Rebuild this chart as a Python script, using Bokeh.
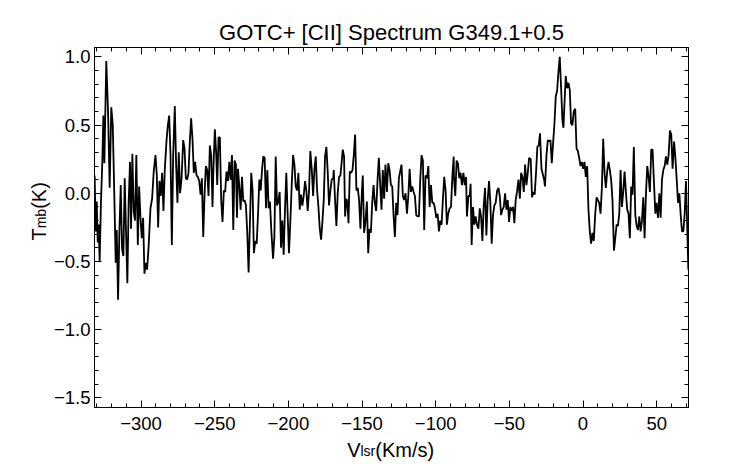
import math
from bokeh.plotting import figure
from bokeh.models import (Range1d, LinearAxis, SingleIntervalTicker, CustomJSTickFormatter, Label)
from bokeh.embed import file_html
from bokeh.resources import INLINE

# ---- data ----
v_seg1 = [-331.5, -330.8, -330.1, -329.4, -328.8, -328.1, -327.2, -326.3, -325.6, -324.9,
          -323.6, -322.4, -321.3, -320.2, -319.2, -318.3, -317.2, -316.5, -315.6, -314.7,
          -313.8, -312.9, -312.0, -311.1, -310.2, -309.3, -308.4, -307.5, -306.8, -305.9,
          -305.0, -304.1, -303.2, -302.2, -301.3, -300.4, -299.5, -298.6, -297.7, -296.8,
          -295.9, -294.8, -293.6, -292.5, -291.4, -290.2, -289.3, -288.4, -287.5, -286.6,
          -285.7, -284.8, -283.9, -282.7, -281.8, -280.9, -280.0, -279.1, -278.2, -277.1,
          -276.2, -275.3, -274.4, -273.5, -272.5, -271.4, -270.5, -269.6, -268.7, -267.8,
          -266.9, -266.0, -265.1, -264.2, -263.3, -262.3, -261.4, -260.5, -259.6, -258.7,
          -257.8, -256.9, -256.0, -255.1, -254.2, -253.3, -252.4, -251.5]
t_seg1 = [0.13, -0.28, -0.06, -0.36, -0.23, -0.50, -0.06, 0.23, 0.57, 0.22,
          0.97, 0.60, 0.04, 0.63, 0.50, 0.06, -0.51, -0.27, -0.78, -0.28,
          0.06, -0.41, -0.46, 0.11, -0.28, -0.66, -0.06, 0.23, -0.26, 0.29,
          -0.13, -0.20, 0.28, -0.38, 0.05, -0.18, -0.33, -0.18, -0.59, -0.51,
          -0.56, -0.38, -0.11, -0.04, 0.16, 0.28, 0.13, -0.25, 0.09, -0.02,
          0.15, -0.13, 0.17, 0.39, 0.50, 0.57, 0.28, -0.38, 0.28, 0.64,
          0.21, -0.07, 0.30, 0.00, 0.11, 0.39, 0.33, 0.11, 0.10, 0.15,
          0.38, 0.55, 0.40, 0.15, 0.23, 0.13, 0.12, 0.09, -0.01, 0.11,
          -0.32, -0.01, 0.20, 0.17, -0.02, 0.35, 0.28, -0.10]

v_seg2 = [-250.8, -249.9, -249.0, -248.3, -247.4, -246.5, -245.6, -244.7, -243.8, -242.9,
          -242.0, -241.0, -240.1, -239.2, -238.3, -237.4, -236.5, -235.6, -234.9, -234.2,
          -233.3, -232.4, -231.5, -230.6, -229.7, -228.8, -227.9, -227.0, -226.1, -225.2,
          -224.3, -223.4, -222.5, -221.5, -220.6, -219.7, -218.8, -217.9, -217.0, -216.1,
          -215.2, -214.3, -213.4, -212.5, -211.6, -210.4, -209.5, -208.6, -207.7, -206.8,
          -205.9, -205.0, -204.1, -203.2, -202.3, -201.4, -200.5, -199.6, -198.7, -197.7,
          -196.8, -195.9, -195.0, -194.1, -193.2, -192.3, -191.4, -190.5, -189.6, -188.7,
          -187.8, -186.9, -186.0, -185.1, -184.1, -183.2, -182.3, -181.4, -180.5, -179.6,
          -178.7, -177.8, -176.9, -176.0, -175.1, -174.2, -173.3, -172.4, -171.5, -170.6,
          -169.6]
t_seg2 = [0.21, 0.47, 0.29, 0.06, 0.41, 0.41, -0.05, -0.21, 0.02, 0.01,
          0.16, 0.09, 0.23, 0.10, 0.28, -0.27, 0.24, 0.21, -0.18, 0.18,
          0.05, -0.12, 0.12, -0.06, -0.05, -0.09, -0.29, -0.58, -0.22, 0.15,
          0.02, -0.44, -0.35, -0.37, -0.15, 0.10, 0.02, 0.17, 0.27, 0.26,
          -0.11, 0.17, -0.11, -0.06, -0.27, -0.48, -0.32, 0.27, -0.09, -0.06,
          0.01, -0.40, -0.20, -0.45, -0.12, 0.15, -0.15, -0.44, -0.22, 0.07,
          0.28, 0.21, 0.05, 0.02, 0.15, -0.12, -0.01, -0.09, -0.02, 0.09,
          0.02, -0.13, 0.01, 0.31, 0.17, -0.02, 0.18, 0.27, 0.02, -0.10,
          -0.26, -0.34, -0.21, -0.05, 0.27, 0.34, 0.16, -0.09, 0.02, 0.10,
          0.11]

v_seg3 = [-169.2, -168.3, -167.4, -166.5, -165.6, -164.7, -163.8, -163.1, -162.2, -161.5,
          -160.6, -159.9, -159.2, -158.3, -157.4, -156.5, -155.6, -154.7, -153.8, -152.9,
          -152.0, -151.1, -150.1, -149.5, -148.6, -147.7, -146.7, -145.8, -144.9, -144.0,
          -143.1, -142.2, -141.3, -140.4, -139.5, -138.6, -137.7, -136.8, -135.9, -135.0,
          -134.1, -133.1, -132.2, -131.3, -130.4, -129.5, -128.6, -127.7, -126.8, -125.9,
          -125.0, -124.1, -123.2, -122.3, -121.4, -120.5, -119.5, -118.6, -117.7, -116.8,
          -115.9, -115.0, -114.1, -113.2, -112.3, -111.4, -110.5, -109.6, -108.7, -107.8,
          -106.9, -105.9, -105.0, -104.1, -103.2, -102.3, -101.4, -100.5, -99.6, -98.7,
          -97.8, -96.9, -96.0, -95.1, -94.2, -93.3, -92.4, -91.5, -90.5, -89.6,
          -88.7, -87.8]
t_seg3 = [0.17, -0.05, -0.24, 0.00, 0.12, 0.13, 0.23, 0.32, 0.27, -0.17,
          -0.04, -0.07, -0.22, 0.16, 0.15, 0.17, 0.28, 0.43, 0.02, 0.04,
          -0.05, -0.26, 0.01, 0.13, -0.29, -0.21, -0.06, -0.44, -0.26, -0.29,
          -0.07, 0.06, -0.07, -0.13, 0.09, 0.26, 0.07, -0.12, 0.17, -0.04,
          0.21, 0.01, 0.22, 0.17, 0.06, 0.05, -0.16, -0.32, -0.07, -0.16,
          0.11, 0.16, 0.21, -0.02, -0.05, 0.00, -0.15, -0.02, 0.18, 0.01,
          0.05, 0.01, -0.02, -0.16, -0.17, -0.17, 0.10, 0.28, 0.24, -0.27,
          0.13, 0.11, 0.20, -0.10, 0.06, -0.07, -0.07, -0.11, -0.18, -0.15,
          -0.28, -0.20, -0.23, -0.04, 0.12, 0.02, -0.23, -0.15, -0.11, -0.10,
          0.12, 0.27]

v_seg4 = [-87.6, -86.7, -85.8, -84.9, -84.0, -83.1, -82.2, -81.2, -80.3, -79.4,
          -78.8, -77.8, -76.9, -76.3, -75.6, -74.7, -73.8, -72.9, -72.0, -71.0,
          -70.1, -69.2, -68.3, -67.4, -66.5, -65.6, -64.7, -63.8, -62.9, -62.0,
          -61.1, -60.2, -59.3, -58.3, -57.4, -56.5, -55.6, -54.7, -53.8, -52.9,
          -52.0, -51.1, -50.2, -49.3, -48.4, -47.5, -46.6, -45.7, -44.7, -43.8,
          -42.9, -42.0, -41.1, -40.2, -39.3, -38.4, -37.5, -36.6]
t_seg4 = [0.12, -0.02, 0.24, 0.22, 0.11, 0.15, 0.06, 0.15, 0.06, 0.12,
          -0.17, -0.02, -0.02, 0.07, -0.38, -0.10, -0.23, -0.17, -0.23, -0.26,
          -0.11, -0.17, -0.35, -0.09, 0.04, -0.31, -0.05, 0.09, -0.07, -0.37,
          -0.16, -0.09, -0.07, 0.02, 0.04, -0.02, -0.16, -0.12, -0.10, 0.00,
          -0.12, -0.05, -0.21, -0.10, -0.13, -0.10, -0.22, -0.05, 0.02, 0.10,
          -0.04, 0.15, 0.12, 0.01, 0.21, 0.06, 0.15, 0.26]

v_seg5 = [-35.5, -34.6, -33.7, -32.8, -31.9, -31.0, -30.1, -29.2, -28.2, -27.3,
          -26.4, -25.8, -24.8, -23.9, -23.0, -22.1, -21.2, -20.3, -19.4, -18.5,
          -17.6, -16.7, -15.8, -14.9, -14.0, -13.3, -12.4, -11.7, -10.8, -9.9,
          -9.0, -8.1, -7.2, -6.3, -5.3, -4.4, -3.5, -2.6, -1.7, -0.8,
          0.1, 1.0, 1.9, 2.8, 3.7, 4.6, 5.5, 6.4, 7.3, 8.3,
          9.2, 10.1, 11.0, 11.9, 12.8, 13.7, 14.6, 15.5, 16.4, 17.3,
          18.2, 19.1, 20.0, 21.0, 21.9, 22.8, 23.7, 24.6, 25.5, 26.4,
          27.3, 28.2, 29.1, 30.0, 30.9, 31.8, 32.7, 33.6, 34.5, 35.5,
          36.4, 37.3, 38.2, 39.1, 40.0, 40.9, 41.8, 42.7, 43.6, 44.5,
          45.4, 46.3, 47.2, 48.2, 49.1, 49.9, 50.9, 51.8, 52.7, 53.6,
          54.5, 55.4, 56.3, 57.2, 58.1, 59.0, 59.9, 60.8, 61.8, 62.7,
          63.6, 64.5, 65.4, 66.3, 67.2, 68.1, 69.0, 69.9, 71.5]
t_seg5 = [0.25, -0.03, 0.01, -0.01, 0.15, 0.34, 0.35, 0.44, 0.18, 0.14,
          0.10, 0.05, 0.28, 0.39, 0.38, 0.39, 0.22, 0.37, 0.51, 0.71,
          0.75, 0.89, 1.00, 0.78, 0.54, 0.48, 0.70, 0.86, 0.77, 0.81,
          0.76, 0.51, 0.50, 0.60, 0.62, 0.33, 0.31, 0.26, 0.20, 0.23,
          0.18, 0.23, 0.12, 0.20, -0.12, -0.28, -0.37, -0.29, -0.35, -0.15,
          -0.03, -0.05, -0.07, -0.15, 0.04, 0.40, 0.15, 0.04, 0.16, 0.23,
          0.17, 0.10, -0.05, -0.42, -0.33, -0.23, -0.24, -0.15, 0.17, -0.10,
          0.01, 0.16, 0.01, -0.12, -0.15, -0.33, 0.05, -0.01, 0.34, -0.16,
          -0.24, -0.27, -0.17, -0.28, -0.20, -0.03, -0.33, -0.01, 0.20, 0.12,
          0.01, 0.32, 0.32, 0.07, -0.15, -0.07, -0.18, 0.00, -0.18, 0.10,
          0.17, 0.20, 0.27, 0.21, 0.28, 0.46, 0.43, 0.18, 0.38, 0.26,
          0.10, -0.07, 0.00, -0.16, -0.28, -0.28, -0.15, 0.09, -0.56]

x_ticks_interval = 50
y_ticks_interval = 0.5
title_text = "GOTC+ [CII] Spectrum G349.1+0.5"

velocity = []
tmb = []
for vs, ts in [(v_seg1, t_seg1), (v_seg2, t_seg2), (v_seg3, t_seg3), (v_seg4, t_seg4), (v_seg5, t_seg5)]:
    n = min(len(vs), len(ts))
    velocity += vs[:n]
    tmb += ts[:n]

FONT = "Liberation Sans"
TICK_SIZE = "18.5px"

p = figure(width=742, height=464, output_backend="svg", toolbar_location=None,
           x_range=Range1d(-331.6, 71.6), y_range=Range1d(-1.571, 1.069),
           min_border_left=94, min_border_right=54, min_border_top=47, min_border_bottom=57,
           x_axis_location=None, y_axis_location=None)
p.background_fill_color = "white"
p.border_fill_color = "white"
p.outline_line_color = "black"
p.xgrid.visible = False
p.ygrid.visible = False

p.title.text = title_text
p.title.align = "center"
p.title.text_font = FONT
p.title.text_font_size = "22px"
p.title.text_font_style = "normal"
p.title.text_color = "black"
p.title.standoff = 6

xfmt = CustomJSTickFormatter(code="return tick.toFixed(0).replace('-', '\\u2212');")
yfmt = CustomJSTickFormatter(code="return tick.toFixed(1).replace('-', '\\u2212');")
blank = CustomJSTickFormatter(code="return '';")

def style(ax):
    ax.axis_line_color = "black"
    ax.axis_line_width = 1
    ax.major_tick_line_color = "black"
    ax.minor_tick_line_color = "black"
    ax.major_tick_in = 7
    ax.major_tick_out = 0
    ax.minor_tick_in = 4
    ax.minor_tick_out = 0
    ax.major_label_text_font = FONT
    ax.major_label_text_font_size = TICK_SIZE
    ax.major_label_text_color = "black"

bottom = LinearAxis(ticker=SingleIntervalTicker(interval=x_ticks_interval, num_minor_ticks=5), formatter=xfmt)
style(bottom)
bottom.major_label_standoff = 9
top = LinearAxis(ticker=SingleIntervalTicker(interval=x_ticks_interval, num_minor_ticks=5), formatter=blank)
style(top)
top.major_label_standoff = 0
top.major_label_text_font_size = "1px"
left = LinearAxis(ticker=SingleIntervalTicker(interval=y_ticks_interval, num_minor_ticks=5), formatter=yfmt)
style(left)
left.major_label_standoff = 4
right = LinearAxis(ticker=SingleIntervalTicker(interval=y_ticks_interval, num_minor_ticks=5), formatter=blank)
style(right)
right.major_label_standoff = 0
right.major_label_text_font_size = "1px"

p.add_layout(bottom, "below")
p.add_layout(top, "above")
p.add_layout(left, "left")
p.add_layout(right, "right")

p.line(velocity, tmb, line_color="black", line_width=1.8)

# Axis-title pieces are placed in canvas pixels; they are hosted in side panels
# that have spare room so that the frame keeps its size.
def add_text(txt, x, y, size, place, angle=0.0):
    p.add_layout(Label(x=x, y=y, x_units="canvas", y_units="canvas", text=txt, angle=angle,
                       text_font=FONT, text_font_size=size, text_align="left",
                       text_baseline="alphabetic", text_color="black"), place)

# x axis label V_lsr(Km/s)
add_text("V", 346.7, 449.0, "20px", "right")
add_text("lsr", 360.0, 450.5, "14px", "right")
add_text("(Km/s)", 374.8, 449.0, "20px", "below")
# y axis label T_mb(K)
ang = math.pi / 2
add_text("T", 38.5, 240.0, "20px", "left", ang)
add_text("mb", 40.0, 227.8, "14px", "left", ang)
add_text("(K)", 38.5, 208.3, "20px", "right", ang)

open("out.html", "w").write(file_html(p, INLINE))
